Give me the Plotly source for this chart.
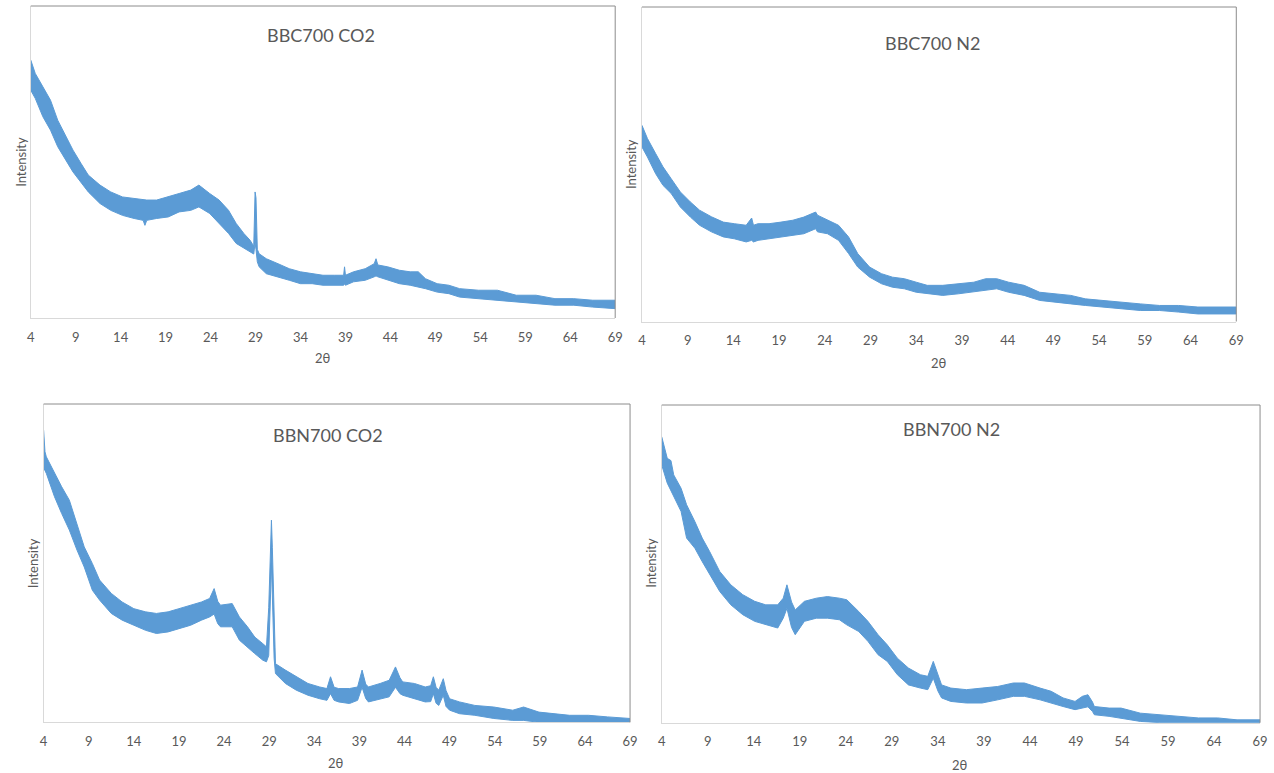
import plotly.graph_objects as go

# ---------------- data (intensity in arbitrary units 0-100) ----------------
tick_vals = [4, 9, 14, 19, 24, 29, 34, 39, 44, 49, 54, 59, 64, 69]
titles = ["BBC700 CO2", "BBC700 N2", "BBN700 CO2", "BBN700 N2"]

# BBC700 CO2 : upper / lower edge of the noisy trace
x_bbc_co2 = [4.0, 4.5, 5.35, 6.2, 7.0, 7.9, 8.7, 9.6, 10.4, 11.7,
             12.9, 14.2, 15.5, 16.5, 16.7, 16.9, 18.0, 19.3, 20.5, 21.8,
             22.7, 23.9, 24.95, 26.0, 26.85, 27.7, 28.4, 28.8, 28.95, 29.05,
             29.2, 29.4, 30.2, 31.5, 32.75, 34.0, 35.3, 36.5, 37.8, 38.8,
             38.9, 39.0, 39.9, 41.2, 42.2, 42.4, 42.6, 43.7, 45.0, 46.2,
             47.1, 47.9, 49.2, 50.5, 51.7, 53.8, 55.9, 58.0, 60.2, 62.3,
             64.4, 66.5, 69.0]
up_bbc_co2 = [82.7, 78.4, 74.1, 69.8, 63.4, 58.1, 53.8, 49.5, 45.8, 42.6,
              40.4, 38.8, 38.3, 37.8, 37.8, 37.8, 37.8, 38.8, 39.9, 41.0,
              42.6, 39.9, 37.8, 34.5, 30.3, 27.1, 24.9, 23.0, 40.4, 38.5,
              22.0, 20.6, 19.0, 17.4, 15.8, 14.8, 14.2, 13.7, 13.7, 13.7,
              16.4, 13.7, 14.8, 15.8, 17.4, 19.0, 17.0, 16.4, 15.3, 14.8,
              14.8, 12.6, 11.0, 10.5, 9.4, 8.9, 8.9, 7.3, 7.3, 6.2,
              6.2, 5.7, 5.7]
lo_bbc_co2 = [73.0, 70.4, 64.5, 60.2, 54.9, 50.6, 46.8, 43.6, 40.4, 36.7,
              34.5, 32.9, 31.9, 31.3, 29.7, 31.3, 31.9, 32.4, 34.0, 34.5,
              35.6, 33.5, 30.3, 27.1, 23.9, 22.2, 21.2, 20.5, 24.0, 22.0,
              18.0, 16.4, 14.2, 13.2, 12.1, 11.0, 11.0, 10.5, 10.5, 10.5,
              11.0, 10.5, 11.6, 12.1, 13.2, 13.5, 13.2, 12.1, 11.0, 10.5,
              9.9, 9.4, 8.3, 7.8, 6.7, 6.2, 5.7, 5.1, 4.6, 4.1,
              4.1, 3.5, 3.0]

# BBC700 N2
x_bbc_n2 = [4.0, 4.6, 5.5, 6.3, 7.2, 8.2, 9.3, 10.3, 11.6, 12.9,
            14.1, 15.4, 16.0, 16.2, 16.7, 17.9, 19.2, 20.5, 21.7, 23.0,
            23.2, 24.3, 25.5, 26.6, 27.6, 28.9, 30.2, 31.4, 32.7, 34.0,
            35.2, 36.9, 38.6, 40.3, 41.6, 42.8, 44.1, 45.8, 47.5, 49.2,
            50.9, 52.5, 54.2, 56.3, 58.5, 60.6, 62.7, 64.8, 66.9, 69.0]
up_bbc_n2 = [62.4, 58.2, 53.4, 49.2, 45.4, 41.2, 38.0, 35.4, 33.3, 31.6,
             31.1, 30.6, 32.9, 30.6, 31.1, 31.1, 31.6, 32.2, 33.2, 34.8,
             33.8, 32.2, 30.6, 26.9, 21.6, 17.3, 15.2, 14.1, 13.6, 12.5,
             11.5, 11.5, 12.0, 12.5, 13.6, 13.6, 12.5, 11.5, 9.3, 8.8,
             8.3, 7.2, 6.7, 6.2, 5.6, 5.1, 5.1, 4.6, 4.6, 4.6]
lo_bbc_n2 = [55.5, 52.3, 47.0, 43.3, 40.7, 36.4, 33.2, 30.6, 28.5, 26.9,
             26.3, 25.3, 25.8, 25.3, 25.8, 26.3, 26.9, 27.4, 27.9, 29.5,
             28.5, 27.9, 25.8, 21.6, 17.3, 14.1, 12.0, 10.9, 10.4, 9.3,
             8.8, 8.3, 8.8, 9.3, 9.9, 10.4, 9.3, 8.3, 6.7, 6.2,
             5.6, 5.1, 4.6, 4.0, 3.5, 3.5, 3.0, 2.4, 2.4, 2.4]

# BBN700 CO2
x_bbn_co2 = [4.0, 4.15, 4.3, 5.2, 6.0, 6.85, 7.7, 8.5, 9.4, 10.2,
             11.5, 12.7, 14.0, 15.3, 16.5, 17.8, 19.0, 20.3, 21.5, 22.4,
             22.9, 23.3, 23.6, 24.9, 25.7, 26.6, 27.4, 28.3, 28.7, 28.95,
             29.15, 29.25, 29.35, 29.55, 29.7, 30.8, 32.0, 33.3, 34.6, 35.4,
             35.8, 36.2, 36.7, 37.9, 38.8, 39.3, 39.7, 40.0, 41.3, 42.3,
             43.0, 43.5, 43.8, 45.1, 46.3, 46.9, 47.2, 47.5, 47.8, 48.3,
             48.6, 49.0, 50.1, 51.8, 53.9, 56.0, 57.2, 58.9, 62.3, 64.4,
             66.5, 69.0]
up_bbn_co2 = [91.8, 85.0, 83.4, 78.2, 74.0, 69.8, 62.5, 55.1, 49.9, 44.7,
              40.5, 37.8, 35.7, 34.7, 34.2, 34.7, 35.7, 36.8, 37.8, 38.9,
              42.0, 38.0, 36.8, 37.3, 33.1, 30.0, 26.8, 24.7, 23.7, 36.0,
              60.0, 63.5, 55.0, 30.0, 18.4, 16.4, 14.3, 12.2, 11.1, 10.6,
              14.3, 11.0, 10.6, 10.6, 11.1, 16.4, 12.0, 11.1, 12.2, 13.2,
              17.4, 14.0, 12.7, 12.2, 11.1, 11.5, 14.3, 11.0, 10.1, 13.7,
              10.0, 7.4, 6.4, 5.3, 4.8, 3.8, 4.8, 3.2, 2.2, 2.2,
              1.7, 1.2]
lo_bbn_co2 = [80.0, 79.0, 78.2, 70.9, 65.6, 60.4, 54.1, 48.8, 41.5, 38.4,
              34.2, 32.1, 30.5, 28.9, 27.9, 28.4, 29.5, 30.5, 32.1, 33.1,
              34.0, 31.0, 30.0, 30.0, 25.8, 23.7, 21.6, 19.5, 19.0, 21.0,
              40.0, 50.0, 40.0, 20.0, 15.3, 12.2, 10.1, 8.5, 7.4, 6.9,
              9.0, 6.9, 6.4, 5.9, 6.9, 11.0, 7.5, 6.4, 7.4, 8.0,
              11.0, 9.0, 8.5, 7.4, 6.4, 6.5, 9.0, 6.0, 5.3, 8.5,
              5.0, 3.8, 2.7, 2.2, 1.2, 0.6, 0.6, 0.0, 0.0, 0.0,
              0.0, 0.0]

# BBN700 N2
x_bbn_n2 = [4.0, 4.6, 5.0, 5.3, 6.1, 6.7, 7.6, 8.4, 9.2, 10.3,
            11.5, 12.8, 14.1, 15.3, 16.6, 17.2, 17.6, 18.1, 18.5, 19.5,
            20.8, 22.0, 23.3, 24.1, 25.4, 26.4, 27.5, 28.5, 29.6, 30.8,
            32.1, 32.9, 33.5, 34.0, 34.4, 35.4, 37.1, 38.8, 40.5, 42.2,
            43.4, 45.1, 46.3, 47.6, 48.9, 49.7, 50.3, 50.8, 51.0, 52.6,
            53.9, 56.0, 58.1, 60.2, 62.3, 64.4, 66.5, 69.0]
up_bbn_n2 = [90.0, 83.2, 82.5, 78.0, 73.8, 68.6, 63.3, 58.1, 53.9, 47.6,
             43.4, 40.3, 38.2, 37.1, 37.1, 39.2, 43.4, 38.0, 35.5, 38.2,
             39.2, 39.7, 39.2, 38.7, 35.0, 31.9, 27.7, 24.5, 20.3, 17.2,
             15.1, 14.6, 19.3, 15.0, 11.9, 10.9, 10.4, 10.9, 11.4, 12.5,
             12.5, 10.9, 9.9, 7.8, 6.7, 8.3, 8.8, 6.5, 5.1, 4.6,
             4.6, 3.0, 2.5, 2.0, 1.5, 1.5, 0.9, 0.9]
lo_bbn_n2 = [81.1, 75.4, 73.0, 71.2, 66.5, 58.1, 54.9, 50.7, 46.5, 41.3,
             37.1, 34.0, 31.9, 30.8, 29.8, 32.9, 36.0, 30.0, 27.7, 31.9,
             32.9, 32.9, 32.4, 30.8, 28.7, 25.6, 21.4, 19.3, 15.1, 11.9,
             10.9, 10.4, 14.0, 10.0, 7.8, 6.7, 6.2, 6.2, 7.2, 8.3,
             8.3, 7.2, 6.2, 5.1, 4.1, 4.6, 5.0, 3.5, 2.5, 2.0,
             1.5, 0.4, 0.0, 0.0, 0.0, 0.0, 0.0, 0.0]

series = [(x_bbc_co2, up_bbc_co2, lo_bbc_co2),
          (x_bbc_n2, up_bbc_n2, lo_bbc_n2),
          (x_bbn_co2, up_bbn_co2, lo_bbn_co2),
          (x_bbn_n2, up_bbn_n2, lo_bbn_n2)]

# ---------------- layout (pixel boxes of the four plot areas) ----------------
W, H = 1274, 773
boxes = [(27, 617, 6, 318), (644, 1244, 7, 321.5), (40, 632, 404, 722.3), (664, 1268, 405, 722.7)]
title_pos = [(320, 35), (937, 43.5), (327.5, 435), (957, 429)]
xlab_pos = [(322, 358), (944, 363), (335, 763), (965, 765)]
ylab_pos = [(17, 162), (633, 164), (29.5, 563), (653, 563)]

BLUE = "#5B9BD5"
TXT = "#595959"
FONT = "Lato"

fig = go.Figure()
annotations = []
shapes = []

for i, ((xs, up, lo), (l, r, t, b)) in enumerate(zip(series, boxes)):
    assert len(xs) == len(up) == len(lo), (i, len(xs), len(up), len(lo))
    n = "" if i == 0 else str(i + 1)
    fig.add_trace(go.Scatter(
        x=list(xs) + list(xs)[::-1], y=list(up) + list(lo)[::-1],
        mode="lines", fill="toself", fillcolor=BLUE,
        line=dict(color=BLUE, width=1.0), hoverinfo="skip", showlegend=False,
        xaxis="x" + n, yaxis="y" + n))
    fig.layout["xaxis" + n] = dict(
        domain=[l / W, r / W], anchor="y" + n, range=[4, 69],
        tickmode="array", tickvals=tick_vals, ticktext=[str(v) for v in tick_vals],
        showgrid=False, zeroline=False, showline=True, linecolor="#d9d9d9", linewidth=1,
        ticks="outside", ticklen=7, tickcolor="rgba(0,0,0,0)",
        tickfont=dict(family=FONT, size=13, color=TXT), fixedrange=True)
    fig.layout["yaxis" + n] = dict(
        domain=[1 - b / H, 1 - t / H], anchor="x" + n, range=[0, 100],
        showticklabels=False, showgrid=False, zeroline=False, ticks="",
        showline=True, linecolor="#d9d9d9", linewidth=1, fixedrange=True)
    # darker top and right frame edges
    shapes.append(dict(type="line", xref="paper", yref="paper", x0=l / W, x1=r / W,
                       y0=1 - t / H, y1=1 - t / H, line=dict(color="#8c8c8c", width=1)))
    shapes.append(dict(type="line", xref="paper", yref="paper", x0=r / W, x1=r / W,
                       y0=1 - t / H, y1=1 - b / H, line=dict(color="#8c8c8c", width=1)))
    tx, ty = title_pos[i]
    annotations.append(dict(text=titles[i], x=tx / W, y=1 - ty / H, xref="paper", yref="paper",
                            xanchor="center", yanchor="middle", showarrow=False,
                            font=dict(family=FONT, size=18, color=TXT)))
    lx, ly = xlab_pos[i]
    annotations.append(dict(text="2θ", x=lx / W, y=1 - ly / H, xref="paper", yref="paper",
                            xanchor="center", yanchor="middle", showarrow=False,
                            font=dict(family=FONT, size=13, color=TXT)))
    vx, vy = ylab_pos[i]
    annotations.append(dict(text="Intensity", x=vx / W, y=1 - vy / H, xref="paper", yref="paper",
                            xanchor="center", yanchor="middle", showarrow=False, textangle=-90,
                            font=dict(family=FONT, size=13, color=TXT)))

fig.update_layout(width=W, height=H, margin=dict(l=0, r=0, t=0, b=0),
                  paper_bgcolor="white", plot_bgcolor="white",
                  annotations=annotations, shapes=shapes, showlegend=False)

fig.write_html("out.html", config={"displayModeBar": False},
               post_script="document.body.style.margin='0';document.body.style.overflow='hidden';")
